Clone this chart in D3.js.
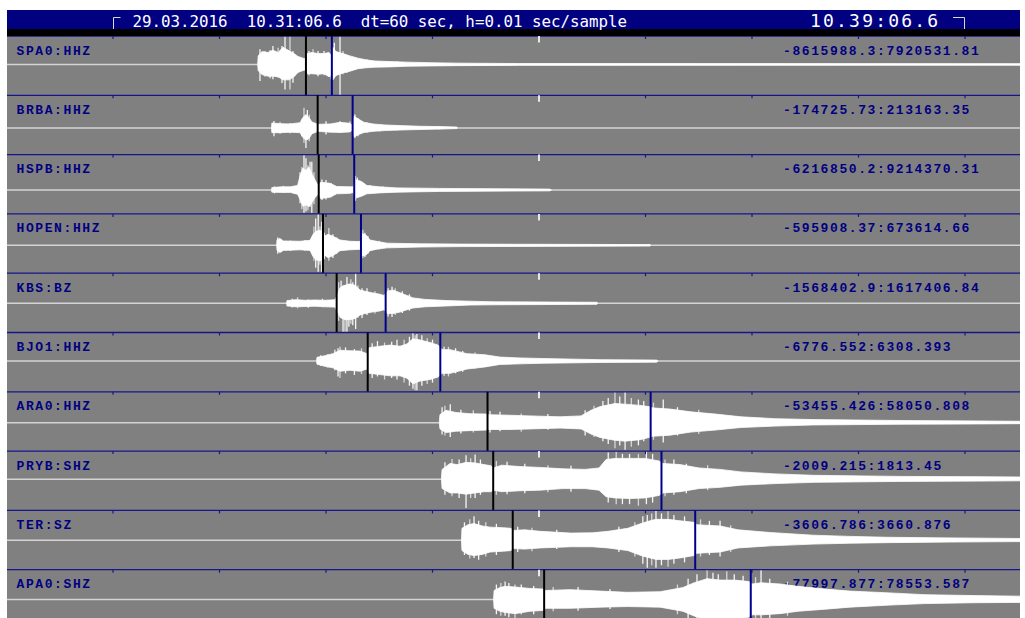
<!DOCTYPE html>
<html><head><meta charset="utf-8">
<script src="https://cdn.jsdelivr.net/npm/d3@7"></script>
<style>html,body{margin:0;padding:0;background:#fff;} svg{display:block} text.pre{white-space:pre}</style>
</head><body>
<svg id="chart" width="1025" height="618"></svg>
<script>
// Station channels, top to bottom
const stations = ["SPA0:HHZ","BRBA:HHZ","HSPB:HHZ","HOPEN:HHZ","KBS:BZ","BJO1:HHZ","ARA0:HHZ","PRYB:SHZ","TER:SZ","APA0:SHZ"];
// Amplitude range of each trace (counts)
const ampMin = [-8615988.3,-174725.73,-6216850.2,-595908.37,-1568402.9,-6776.552,-53455.426,-2009.215,-3606.786,-77997.877];
const ampMax = [7920531.81,213163.35,9214370.31,673614.66,1617406.84,6308.393,58050.808,1813.45,3660.876,78553.587];
// Phase picks, seconds after 10:31:06.6
const pPicks = [108.7,115.3,115.9,118.3,126.0,143.5,211.0,214.2,225.2,242.9];
const sPicks = [123.3,135.0,135.9,139.7,153.6,184.4,302.9,309.0,328.0,359.3];
// Time marks every 60 s across the 8-minute window
const tickSeconds = [0,60,120,180,240,300,360,420,480];
const headerLeft = "29.03.2016  10.31:06.6  dt=60 sec, h=0.01 sec/sample";
const headerRight = "10.39:06.6";

// Trace envelopes: [seconds, upper fraction of max, lower fraction of |min|]
const envSPA0 = [[81.5,0,0],[81.8,0.30,0.20],[83.9,0.45,0.33],[87.3,0.42,0.38],[90.1,0.5,0.38],[93.0,0.42,0.4],[95.8,0.6,0.5],[99.2,0.48,0.5],[102.0,0.38,0.4],[104.2,0.28,0.26],[107.0,0.22,0.2],[108.2,0.2,0.18],[109.3,0.38,0.3],[112.1,0.42,0.3],[115.5,0.38,0.32],[118.9,0.38,0.3],[121.7,0.42,0.4],[122.8,0.32,0.36],[123.9,0.6,0.5],[125.6,0.45,0.36],[129.6,0.38,0.28],[133.5,0.3,0.22],[138.0,0.22,0.14],[142.5,0.16,0.11],[147.6,0.12,0.09],[156.1,0.1,0.08],[165.6,0.08,0.06],[178.6,0.06,0.05],[193.8,0.045,0.04],[229,0.03,0.03],[511,0.025,0.025]];
const envBRBA = [[89.3,0,0],[89.5,0.15,0.18],[94.1,0.13,0.18],[99.7,0.12,0.16],[105.4,0.16,0.18],[107.0,0.32,0.36],[108.7,0.4,0.45],[110.4,0.32,0.4],[112.1,0.18,0.22],[115.5,0.11,0.13],[122.3,0.12,0.16],[127.9,0.17,0.17],[133.5,0.14,0.15],[134.7,0.09,0.09],[135.8,0.36,0.34],[138.0,0.28,0.26],[141.4,0.17,0.17],[146.5,0.12,0.13],[153.2,0.09,0.1],[161.7,0.07,0.08],[173.0,0.05,0.06],[184.2,0.04,0.045],[193.8,0.025,0.025],[194,0,0]];
const envHSPB = [[89.3,0,0],[89.5,0.07,0.09],[95,0.09,0.1],[100,0.09,0.1],[104,0.13,0.18],[105.4,0.4,0.4],[107.0,0.62,0.68],[108.7,0.55,0.62],[110.4,0.65,0.7],[112.1,0.45,0.52],[114,0.27,0.3],[115.5,0.13,0.18],[117,0.22,0.36],[122.3,0.19,0.3],[126,0.1,0.16],[133.5,0.09,0.14],[135.5,0.09,0.1],[136.3,0.3,0.35],[140,0.24,0.26],[143,0.13,0.16],[150,0.09,0.12],[160,0.06,0.09],[184,0.045,0.06],[246,0.025,0.035],[247,0,0]];
const envHOPEN = [[92.2,0,0],[92.4,0.18,0.18],[94,0.22,0.26],[96,0.14,0.18],[105.4,0.13,0.16],[111.0,0.16,0.18],[112.7,0.35,0.4],[114.4,0.45,0.52],[116.6,0.48,0.56],[117.7,0.44,0.52],[119.4,0.3,0.36],[121.1,0.35,0.44],[123.9,0.29,0.37],[127.9,0.17,0.19],[133.5,0.13,0.16],[139.2,0.12,0.14],[140.3,0.37,0.37],[142.5,0.33,0.35],[144.8,0.17,0.19],[149.3,0.12,0.13],[154.4,0.07,0.09],[173.0,0.05,0.06],[195.5,0.04,0.045],[302.5,0.025,0.025],[303,0,0]];
const envKBS = [[97.8,0,0],[98.0,0.09,0.09],[103.1,0.12,0.12],[108.2,0.1,0.11],[113.8,0.11,0.1],[119.4,0.1,0.12],[125.1,0.12,0.13],[126.2,0.26,0.26],[127.9,0.52,0.48],[130.7,0.6,0.56],[133.5,0.64,0.56],[136.3,0.6,0.52],[139.2,0.44,0.4],[142.0,0.4,0.35],[145.9,0.35,0.3],[150.4,0.3,0.26],[152.7,0.26,0.22],[154.4,0.4,0.35],[157.7,0.44,0.35],[161.7,0.35,0.3],[165.6,0.26,0.22],[169.0,0.18,0.16],[175.8,0.13,0.12],[188.2,0.09,0.09],[201.1,0.07,0.06],[214.1,0.05,0.05],[272.7,0.035,0.035],[273,0,0]];
const envBJO1 = [[114.7,0,0],[114.9,0.13,0.1],[119.4,0.19,0.17],[123.9,0.26,0.22],[127.9,0.38,0.33],[133.5,0.36,0.3],[139.2,0.35,0.33],[143.1,0.26,0.26],[144.2,0.47,0.4],[150.4,0.52,0.44],[156.1,0.56,0.48],[161.7,0.52,0.48],[165.6,0.6,0.56],[169.0,0.78,0.74],[173.0,0.74,0.65],[178.6,0.65,0.6],[183.1,0.56,0.52],[185.4,0.4,0.4],[189.9,0.4,0.4],[199.4,0.26,0.26],[209.6,0.22,0.19],[218.0,0.14,0.11],[229.3,0.11,0.09],[242.3,0.09,0.07],[274.4,0.05,0.045],[306.5,0.035,0.035],[307,0,0]];
const envARA0 = [[183.8,0,0],[184.2,0.26,0.22],[187.6,0.4,0.35],[193.2,0.33,0.3],[201.1,0.29,0.28],[210.2,0.28,0.26],[211.3,0.26,0.24],[223.7,0.24,0.24],[235.0,0.22,0.22],[251.9,0.19,0.19],[263.7,0.22,0.22],[269.3,0.4,0.4],[274.4,0.52,0.52],[282.8,0.62,0.62],[288.5,0.6,0.65],[296.9,0.56,0.6],[302.0,0.52,0.52],[303.7,0.48,0.48],[313.8,0.44,0.44],[325.6,0.35,0.33],[339.2,0.28,0.26],[353.8,0.19,0.17],[373.0,0.13,0.12],[394.4,0.1,0.08],[443.4,0.07,0.055],[488.5,0.055,0.045],[511,0.045,0.035]];
const envPRYB = [[185.0,0,0],[185.4,0.35,0.3],[189.9,0.56,0.44],[194,0.52,0.44],[198.9,0.6,0.48],[204.0,0.58,0.44],[209,0.52,0.4],[213.0,0.48,0.4],[214.1,0.4,0.35],[219,0.5,0.4],[229.3,0.45,0.37],[240.6,0.42,0.35],[253.5,0.37,0.3],[265.9,0.35,0.3],[273.8,0.4,0.35],[277.8,0.7,0.56],[282.8,0.74,0.6],[291.3,0.74,0.62],[299.7,0.74,0.6],[307.6,0.65,0.52],[309.9,0.56,0.44],[319.5,0.52,0.4],[330.2,0.4,0.3],[342.0,0.35,0.26],[353.8,0.26,0.19],[373.0,0.19,0.14],[394.4,0.14,0.1],[443.4,0.1,0.07],[488.5,0.09,0.06],[511,0.08,0.05]];
const envTER = [[196.3,0,0],[196.6,0.4,0.35],[200,0.52,0.48],[203.4,0.56,0.52],[208,0.48,0.48],[212.4,0.44,0.4],[220,0.42,0.37],[224.2,0.4,0.35],[225.4,0.33,0.28],[232,0.35,0.3],[240.6,0.3,0.26],[258.0,0.24,0.22],[270,0.25,0.22],[278.9,0.3,0.26],[290,0.4,0.35],[297.5,0.56,0.52],[302.5,0.65,0.6],[305.9,0.7,0.65],[312.7,0.7,0.65],[319.5,0.65,0.6],[327.4,0.6,0.52],[329.0,0.52,0.44],[342.0,0.48,0.4],[352.1,0.35,0.26],[370.2,0.26,0.19],[394.4,0.17,0.13],[415.2,0.13,0.1],[436.6,0.1,0.08],[471.6,0.08,0.06],[511,0.06,0.045]];
const envAPA0 = [[214.4,0,0],[214.7,0.3,0.3],[218,0.4,0.4],[220.9,0.44,0.44],[226.5,0.42,0.48],[234.9,0.37,0.4],[242.3,0.35,0.37],[243.4,0.3,0.3],[257.5,0.33,0.3],[274.4,0.28,0.26],[289.6,0.24,0.24],[308.2,0.26,0.26],[321.1,0.4,0.4],[327.4,0.56,0.56],[334.7,0.7,0.7],[342.0,0.65,0.7],[350.4,0.65,0.65],[358.3,0.6,0.6],[360.0,0.52,0.52],[365.1,0.56,0.52],[375.8,0.52,0.48],[385.9,0.44,0.4],[401.1,0.35,0.33],[415.2,0.28,0.26],[437.8,0.22,0.19],[457.5,0.16,0.14],[485.7,0.13,0.11],[511,0.11,0.1]];
const envelopes = [envSPA0,envBRBA,envHSPB,envHOPEN,envKBS,envBJO1,envARA0,envPRYB,envTER,envAPA0];

// Individual swings standing out of the envelope: [seconds, upper fraction, lower fraction]
const spikesSPA0 = [[82.8,0.53,0.54],[85.6,0.47,0.4],[88.5,0.5,0.45],[90.1,0.65,0.48],[93.0,0.59,0.43],[95.2,0.65,0.6],[96.9,1.0,0.81],[99.7,1.0,0.81],[101.4,0.47,0.59],[110.4,0.47,0.35],[112.7,0.53,0.3],[115.5,0.47,0.38],[118.9,0.47,0.35],[122.8,0.35,0.48],[124.7,0.76,0.43],[127.9,1.0,1.0],[129.6,0.47,0.32],[131.8,0.29,0.27],[136.3,0.24,0.15],[143.1,0.18,0.12],[150,0.12,0.08],[160,0.1,0.06]];
const spikesBRBA = [[90.7,0.21,0.31],[94.1,0.18,0.22],[99.7,0.15,0.2],[106.4,0.26,0.31],[107.6,0.62,0.56],[108.7,0.41,0.75],[109.5,0.55,0.45],[110.6,0.4,0.5],[120,0.2,0.25],[127.9,0.2,0.19],[133.5,0.2,0.15],[136.3,0.41,0.38],[138.0,0.3,0.31],[143.1,0.17,0.19],[150.4,0.1,0.13],[159.9,0.07,0.09],[184,0.05,0.06]];
const spikesHSPB = [[91,0.1,0.14],[96,0.12,0.12],[102,0.1,0.15],[105.4,0.5,0.55],[106.4,0.65,0.8],[107.6,1.0,0.95],[108.7,0.9,0.9],[109.8,0.7,0.85],[111.0,0.8,0.7],[112.0,0.8,0.95],[113.2,0.5,0.6],[117.7,0.3,0.42],[120,0.28,0.4],[123,0.2,0.3],[136.6,0.4,0.45],[137.7,0.35,0.3],[141,0.2,0.2],[145,0.13,0.15],[152,0.1,0.12]];
const spikesHOPEN = [[92.8,0.25,0.3],[94.6,0.2,0.25],[100,0.15,0.2],[108,0.16,0.18],[113.2,0.6,0.55],[114.2,0.85,0.8],[115.6,1.0,0.95],[116.6,0.6,0.7],[117.6,0.75,0.95],[119,0.4,0.5],[121.6,0.55,0.55],[123.9,0.35,0.45],[126,0.25,0.3],[140.8,0.5,0.45],[141.9,0.4,0.42],[143.6,0.3,0.3],[150,0.15,0.15]];
const spikesKBS = [[101,0.15,0.14],[104,0.2,0.17],[110,0.13,0.15],[118,0.15,0.13],[127.1,0.7,0.6],[128.5,0.75,0.5],[129.6,0.6,0.99],[130.7,0.6,0.99],[131.8,0.87,0.99],[132.9,0.65,0.8],[134.0,0.8,0.7],[135.1,0.7,0.75],[136.7,1.0,0.88],[138.0,0.6,0.5],[140.3,0.5,0.5],[143.1,0.5,0.4],[147.6,0.4,0.35],[155,0.5,0.45],[157.2,0.55,0.47],[159,0.5,0.4],[163,0.4,0.33],[167,0.3,0.25],[172,0.18,0.15]];
const spikesBJO1 = [[117,0.2,0.15],[121,0.25,0.22],[125,0.4,0.3],[126.8,0.45,0.5],[127.9,0.5,0.55],[131,0.48,0.4],[136,0.42,0.45],[140,0.45,0.42],[146,0.62,0.55],[149,0.7,0.5],[153,0.65,0.6],[157,0.68,0.55],[160,0.75,0.6],[164,0.75,0.7],[167,0.85,0.8],[169.0,1.0,0.9],[170.2,0.9,0.95],[171.2,0.95,0.95],[174,0.9,0.8],[177,0.8,0.75],[180,0.75,0.7],[186.5,0.5,0.48],[189,0.5,0.5],[193,0.45,0.4],[197,0.35,0.35],[204,0.3,0.25]];
const spikesARA0 = [[185.4,0.5,0.42],[187,0.55,0.45],[190,0.6,0.5],[196,0.42,0.38],[203,0.4,0.35],[212.4,0.38,0.35],[218,0.35,0.3],[230,0.3,0.32],[245,0.28,0.25],[266,0.4,0.45],[271,0.55,0.5],[276,0.7,0.65],[279,0.8,0.75],[282.8,1.0,0.9],[285.5,0.85,0.8],[288.5,1.0,0.95],[292,0.8,0.85],[296,0.75,0.8],[299,0.7,0.65],[304.5,0.65,0.6],[310,0.75,0.7],[318,0.5,0.45],[330,0.42,0.4]];
const spikesPRYB = [[187,0.6,0.5],[191,0.72,0.55],[195,0.7,0.6],[198.9,0.85,0.92],[201.5,0.75,0.6],[204.0,0.88,0.6],[207,0.7,0.5],[216,0.65,0.5],[222,0.62,0.48],[232,0.55,0.45],[245,0.5,0.42],[258,0.48,0.4],[279,0.95,0.75],[283.5,1.0,0.8],[287,0.9,0.8],[291,0.9,0.8],[296,0.9,0.85],[300.5,1.0,0.8],[304,0.9,0.75],[311,0.7,0.55],[316,0.7,0.5],[323,0.55,0.45],[335,0.5,0.35]];
const spikesTER = [[198,0.6,0.5],[201,0.7,0.62],[203.4,0.8,0.6],[206,0.65,0.66],[210,0.6,0.55],[216,0.55,0.5],[228,0.45,0.4],[236,0.42,0.37],[250,0.35,0.3],[285,0.45,0.4],[294,0.6,0.55],[298.5,0.8,0.8],[301,0.85,0.93],[303.5,0.9,0.85],[305.9,1.0,0.93],[309,0.9,0.85],[312.7,0.97,0.9],[316,0.85,0.8],[322,0.8,0.75],[331,0.7,0.55],[336,0.65,0.5],[342,0.65,0.55],[348,0.5,0.4]];
const spikesAPA0 = [[216,0.5,0.5],[218.5,0.55,0.55],[220.9,0.6,0.55],[223,0.55,0.6],[226.5,0.5,0.65],[230,0.5,0.5],[237,0.45,0.5],[248,0.42,0.4],[262,0.42,0.38],[280,0.35,0.32],[318,0.5,0.5],[324,0.7,0.7],[329,0.85,0.8],[334.7,1.0,0.9],[338,0.9,0.9],[341,0.85,0.9],[345.8,0.95,0.9],[350,0.85,0.85],[355,0.8,0.8],[362,0.75,0.7],[365.1,1.0,0.8],[370,0.7,0.65],[380,0.6,0.55]];
const spikes = [spikesSPA0,spikesBRBA,spikesHSPB,spikesHOPEN,spikesKBS,spikesBJO1,spikesARA0,spikesPRYB,spikesTER,spikesAPA0];

// ---- layout ----
const W = 1025, H = 618;
const plotLeft = 7, plotRight = 1020, plotTop = 36, panelH = 59.3;
const navy = "#000080", lineBlue = "#16168c";

const svg = d3.select("#chart");
const x = d3.scaleLinear().domain([0, 480]).range([113, 965]);

svg.append("defs").append("clipPath").attr("id", "plot")
  .append("rect").attr("x", plotLeft).attr("y", plotTop).attr("width", plotRight - plotLeft).attr("height", H - plotTop);

// display background
svg.append("rect").attr("x", plotLeft).attr("y", plotTop).attr("width", plotRight - plotLeft).attr("height", H - plotTop).attr("fill", "#808080");

// header bar
svg.append("rect").attr("x", plotLeft).attr("y", 10).attr("width", plotRight - plotLeft).attr("height", 19).attr("fill", navy);
svg.append("rect").attr("x", plotLeft).attr("y", 29).attr("width", plotRight - plotLeft).attr("height", 7).attr("fill", "#000");
const hdr = svg.append("g").attr("fill", "#fff").attr("font-family", "'DejaVu Sans Mono', monospace");
hdr.append("text").attr("class", "pre").attr("xml:space", "preserve")
  .attr("x", x(0) + 19.5).attr("y", 26.5).attr("font-size", 15.8).text(headerLeft);
hdr.append("text").attr("x", 810).attr("y", 27).attr("font-size", 18).attr("letter-spacing", 2.2).text(headerRight);
// window brackets at the start and end of the time window
svg.append("path").attr("d", `M${x(0)+7.5},17.5H${x(0)+0.5}V29`).attr("fill", "none").attr("stroke", "#d8d8d8").attr("stroke-width", 1);
svg.append("path").attr("d", `M${x(480)-12},17.5H${x(480)-0.5}V29`).attr("fill", "none").attr("stroke", "#d8d8d8").attr("stroke-width", 1);

const plot = svg.append("g").attr("clip-path", "url(#plot)");

stations.forEach((name, i) => {
  const pTop = plotTop + i * panelH, pBot = pTop + panelH;
  const y = d3.scaleLinear().domain([ampMin[i], ampMax[i]]).range([pBot, pTop]);
  const g = plot.append("g");

  // zero line
  g.append("line").attr("x1", plotLeft).attr("x2", plotRight).attr("y1", y(0)).attr("y2", y(0))
    .attr("stroke", "#d4d4d4").attr("stroke-width", 1.5);

  // channel name and amplitude range
  g.append("text").attr("x", 16.5).attr("y", pTop + 18.5)
    .attr("font-family", "'Liberation Mono', monospace").attr("font-weight", "bold")
    .attr("font-size", 13).attr("letter-spacing", 1.6).attr("fill", navy).text(name);
  g.append("text").attr("x", 783).attr("y", pTop + 18.5)
    .attr("font-family", "'Liberation Mono', monospace").attr("font-weight", "bold")
    .attr("font-size", 13).attr("letter-spacing", 1.6).attr("fill", navy)
    .text(`${ampMin[i]}:${ampMax[i]}`);

  // single large swings, under the envelope so only their tips show
  g.selectAll("line.spike").data(spikes[i]).join("line").attr("class", "spike")
    .attr("x1", d => x(d[0])).attr("x2", d => x(d[0]))
    .attr("y1", d => y(d[2] * ampMin[i])).attr("y2", d => y(d[1] * ampMax[i]))
    .attr("stroke", (d, k) => k % 3 === 1 ? "#d6d6d6" : "#f6f6f6").attr("stroke-width", 1.3);

  // waveform envelope
  const area = d3.area()
    .x(d => x(d[0]))
    .y0(d => y(d[2] * ampMin[i]))
    .y1(d => y(d[1] * ampMax[i]));
  g.append("path").datum(envelopes[i]).attr("d", area)
    .attr("fill", "#fff").attr("stroke", "#fff").attr("stroke-width", 0.8);

  // panel separator
  g.append("line").attr("x1", plotLeft).attr("x2", plotRight).attr("y1", pTop).attr("y2", pTop)
    .attr("stroke", lineBlue).attr("stroke-width", 1.3);

  // minute marks, the mid-window mark in white
  g.selectAll("line.tick").data(tickSeconds).join("line").attr("class", "tick")
    .attr("x1", d => x(d)).attr("x2", d => x(d))
    .attr("y1", pTop).attr("y2", d => d === 240 ? pTop + 6.5 : pTop + 3)
    .attr("stroke", d => d === 240 ? "#e8e8e8" : lineBlue)
    .attr("stroke-width", d => d === 240 ? 2 : 1.2);

  // P and S picks
  g.append("line").attr("x1", x(pPicks[i])).attr("x2", x(pPicks[i])).attr("y1", pTop).attr("y2", pBot)
    .attr("stroke", "#000").attr("stroke-width", 2);
  g.append("line").attr("x1", x(sPicks[i])).attr("x2", x(sPicks[i])).attr("y1", pTop).attr("y2", pBot)
    .attr("stroke", "#00008b").attr("stroke-width", 2);
});
</script>
</body></html>
